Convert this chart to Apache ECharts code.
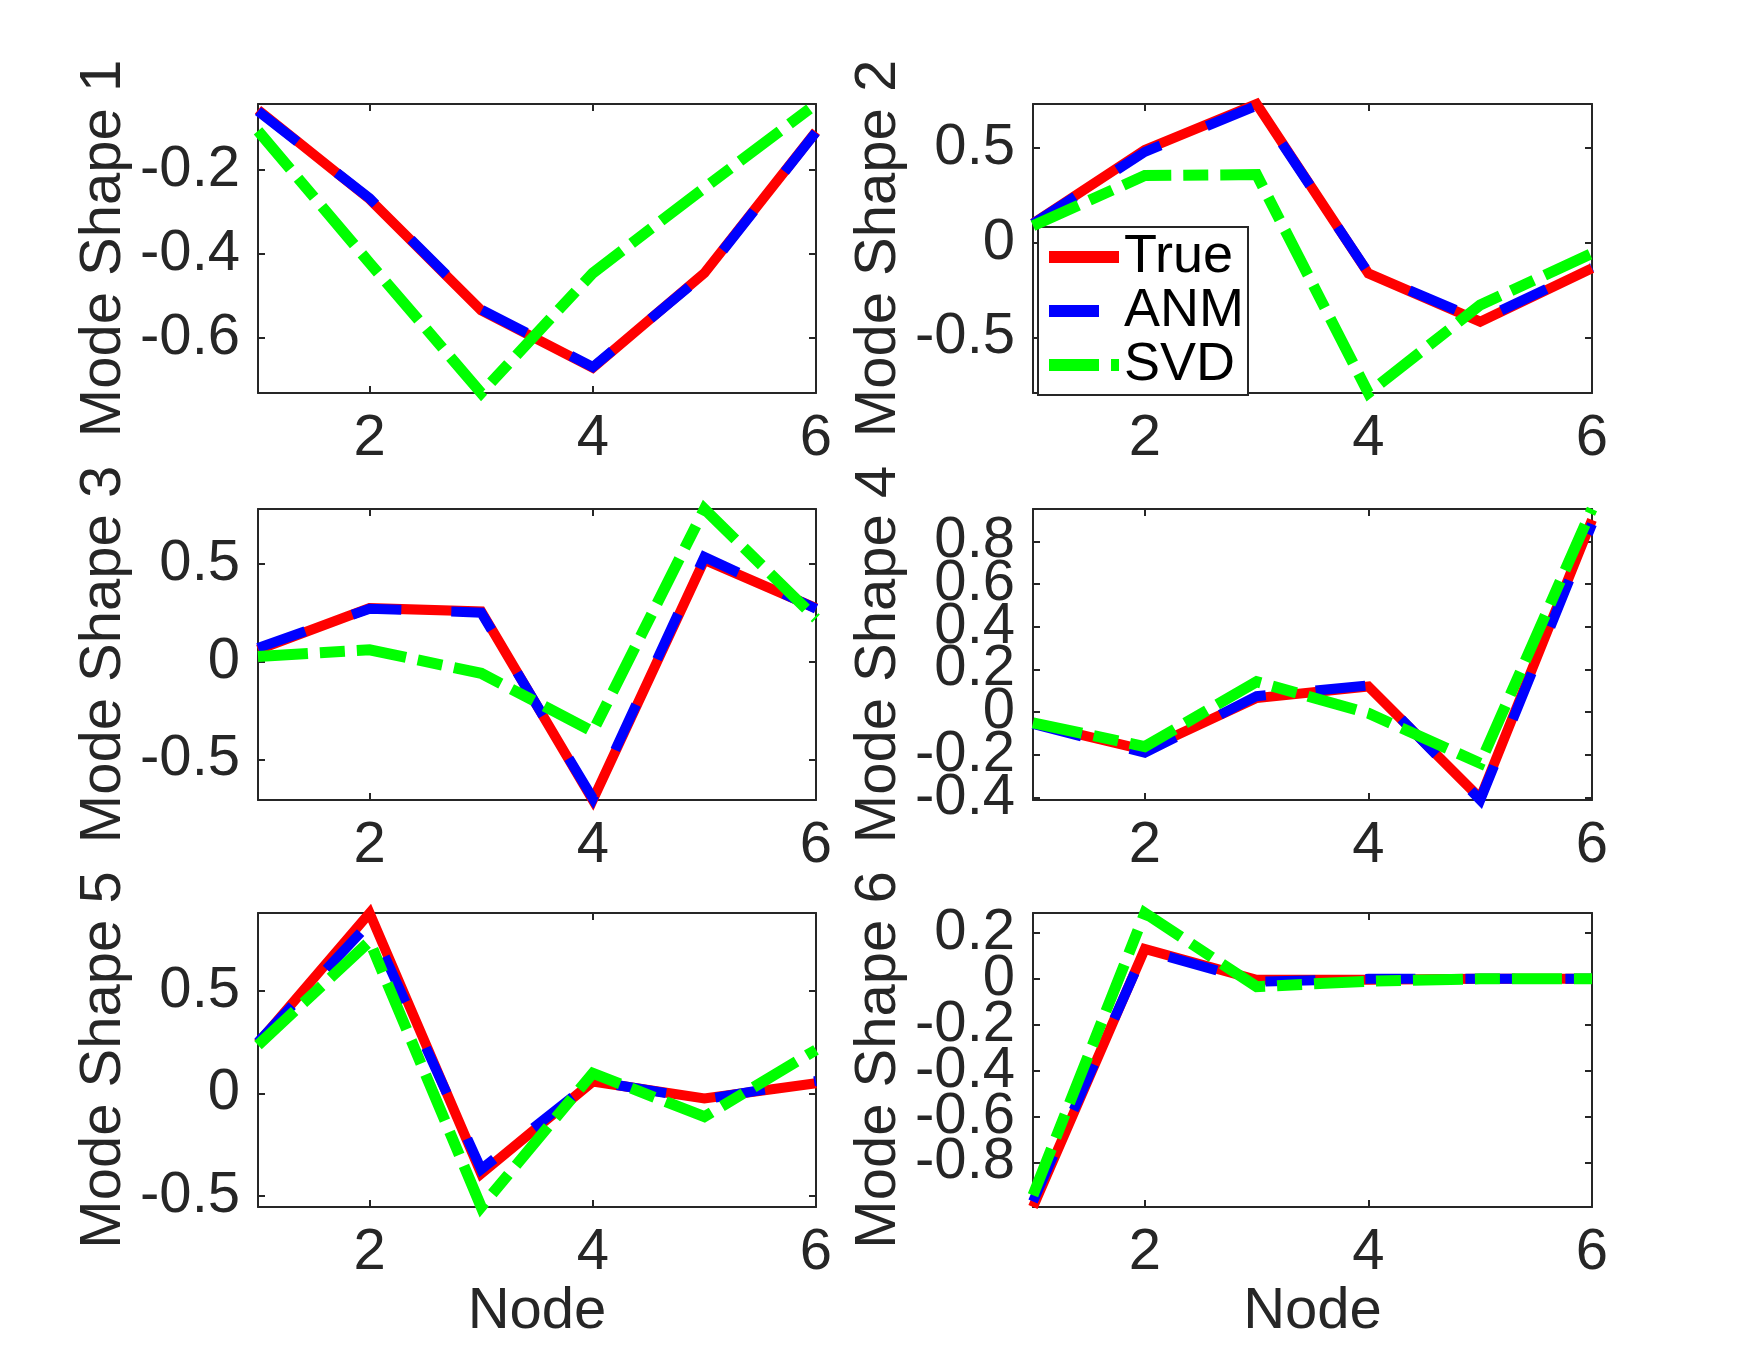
<!DOCTYPE html>
<html>
<head>
<meta charset="utf-8">
<script src="https://cdn.jsdelivr.net/npm/echarts@6/dist/echarts.min.js"></script>
<style>
    html, body { margin: 0; padding: 0; background: #fff; }
    #mode_shapes { width: 1759px; height: 1355px; }
</style>
</head>
<body>
<div id="mode_shapes"></div>
<script>
// data
const nodes = [1, 2, 3, 4, 5, 6];
const xTicks = [2, 4, 6];
const seriesNames = ['True', 'ANM', 'SVD'];

const trueShape1 = [-0.057, -0.27, -0.535, -0.672, -0.446, -0.109];
const anmShape1  = [-0.060, -0.268, -0.533, -0.670, -0.448, -0.110];
const svdShape1  = [-0.107, -0.422, -0.732, -0.446, -0.243, -0.043];
const yLimits1 = [-0.732, -0.043];
const yTicks1 = [-0.6, -0.4, -0.2];

const trueShape2 = [0.102, 0.49, 0.733, -0.162, -0.417, -0.135];
const anmShape2  = [0.100, 0.48, 0.725, -0.160, -0.410, -0.130];
const svdShape2  = [0.090, 0.355, 0.36, -0.794, -0.329, -0.056];
const yLimits2 = [-0.794, 0.733];
const yTicks2 = [-0.5, 0, 0.5];

const trueShape3 = [0.06, 0.273, 0.256, -0.708, 0.52, 0.273];
const anmShape3  = [0.07, 0.270, 0.250, -0.700, 0.535, 0.270];
const svdShape3  = [0.026, 0.06, -0.06, -0.358, 0.78, 0.22];
const yLimits3 = [-0.708, 0.78];
const yTicks3 = [-0.5, 0, 0.5];

const trueShape4 = [-0.052, -0.177, 0.066, 0.12, -0.403, 0.90];
const anmShape4  = [-0.055, -0.190, 0.075, 0.125, -0.411, 0.88];
const svdShape4  = [-0.050, -0.161, 0.143, -0.005, -0.239, 0.951];
const yLimits4 = [-0.411, 0.951];
const yTicks4 = [-0.4, -0.2, 0, 0.2, 0.4, 0.6, 0.8];

const trueShape5 = [0.244, 0.879, -0.391, 0.057, -0.025, 0.049];
const anmShape5  = [0.250, 0.830, -0.370, 0.060, -0.030, 0.060];
const svdShape5  = [0.235, 0.741, -0.554, 0.098, -0.114, 0.212];
const yLimits5 = [-0.554, 0.879];
const yTicks5 = [-0.5, 0, 0.5];

const trueShape6 = [-0.994, 0.13, -0.004, -0.004, 0.0, 0.0];
const anmShape6  = [-0.970, 0.125, -0.012, 0.0, 0.0, 0.0];
const svdShape6  = [-0.943, 0.287, -0.034, -0.01, 0.0, 0.0];
const yLimits6 = [-0.994, 0.287];
const yTicks6 = [-0.8, -0.6, -0.4, -0.2, 0, 0.2];

const panels = [
    { name: 'Mode Shape 1', shapes: [trueShape1, anmShape1, svdShape1], lim: yLimits1, ticks: yTicks1 },
    { name: 'Mode Shape 2', shapes: [trueShape2, anmShape2, svdShape2], lim: yLimits2, ticks: yTicks2 },
    { name: 'Mode Shape 3', shapes: [trueShape3, anmShape3, svdShape3], lim: yLimits3, ticks: yTicks3 },
    { name: 'Mode Shape 4', shapes: [trueShape4, anmShape4, svdShape4], lim: yLimits4, ticks: yTicks4 },
    { name: 'Mode Shape 5', shapes: [trueShape5, anmShape5, svdShape5], lim: yLimits5, ticks: yTicks5 },
    { name: 'Mode Shape 6', shapes: [trueShape6, anmShape6, svdShape6], lim: yLimits6, ticks: yTicks6 }
];

// layout
const colLeft = [258, 1033];
const colWidth = [558, 559];
const rowTop = [104, 509, 913];
const rowHeight = [289, 291, 294];

const axisColor = '#262626';
const fontFamily = 'Liberation Sans, Arial, Helvetica, sans-serif';
const lineStyles = [
    { color: '#ff0000', width: 10, type: 'solid' },
    { color: '#0000ff', width: 10, type: [50, 50] },
    { color: '#00ff00', width: 11, type: [50, 12, 25, 12] }
];

let myChart = echarts.init(document.getElementById('mode_shapes'));

let grids = [];
let xAxes = [];
let yAxes = [];
let seriesData = [];

function fmt(v) {
    return String(+(+v).toFixed(2));
}

function yLabel(values) {
    return { show: true, customValues: values, margin: 18, fontSize: 58,
        hideOverlap: false, showMinLabel: true, showMaxLabel: true,
        color: axisColor, fontFamily: fontFamily, formatter: fmt };
}

panels.forEach(function (p, i) {
    let col = i % 2;
    let row = Math.floor(i / 2);
    grids.push({
        left: colLeft[col],
        top: rowTop[row],
        width: colWidth[col],
        height: rowHeight[row]
    });

    let isBottom = row === 2;
    // bottom x axis + top mirror
    [false, true].forEach(function (mirror) {
        xAxes.push({
            type: 'value',
            gridIndex: i,
            position: mirror ? 'top' : 'bottom',
            min: 1,
            max: 6,
            name: (!mirror && isBottom) ? 'Node' : '',
            nameLocation: 'middle',
            nameGap: 68,
            nameTextStyle: { fontSize: 58, color: axisColor, fontFamily: fontFamily },
            axisLine: { show: true, onZero: false, lineStyle: { color: axisColor, width: 2 } },
            axisTick: { show: true, inside: true, length: 7, customValues: xTicks,
                lineStyle: { color: axisColor, width: 2 } },
            axisLabel: { show: !mirror, customValues: xTicks, margin: 17, fontSize: 58,
                hideOverlap: false, color: axisColor, fontFamily: fontFamily, formatter: fmt },
            splitLine: { show: false }
        });
    });

    // tick labels are split over two left axes so crowded ones are not dropped
    let evenTicks = p.ticks.filter(function (t, j) { return j % 2 === 0; });
    let oddTicks = p.ticks.filter(function (t, j) { return j % 2 === 1; });

    // left y axis (carries the series)
    yAxes.push({
        type: 'value',
        gridIndex: i,
        position: 'left',
        min: p.lim[0],
        max: p.lim[1],
        name: p.name,
        nameLocation: 'middle',
        nameGap: 125,
        nameTextStyle: { fontSize: 58, color: axisColor, fontFamily: fontFamily },
        axisLine: { show: true, onZero: false, lineStyle: { color: axisColor, width: 2 } },
        axisTick: { show: true, inside: true, length: 7, customValues: p.ticks,
            lineStyle: { color: axisColor, width: 2 } },
        axisLabel: yLabel(evenTicks),
        splitLine: { show: false }
    });
    // right mirror
    yAxes.push({
        type: 'value',
        gridIndex: i,
        position: 'right',
        min: p.lim[0],
        max: p.lim[1],
        axisLine: { show: true, onZero: false, lineStyle: { color: axisColor, width: 2 } },
        axisTick: { show: true, inside: true, length: 7, customValues: p.ticks,
            lineStyle: { color: axisColor, width: 2 } },
        axisLabel: { show: false },
        splitLine: { show: false }
    });
    // left labels only
    yAxes.push({
        type: 'value',
        gridIndex: i,
        position: 'left',
        offset: 0,
        min: p.lim[0],
        max: p.lim[1],
        axisLine: { show: false, onZero: false },
        axisTick: { show: false },
        axisLabel: Object.assign(yLabel(oddTicks), { show: oddTicks.length > 0 }),
        splitLine: { show: false }
    });

    p.shapes.forEach(function (values, k) {
        seriesData.push({
            name: seriesNames[k],
            type: 'line',
            xAxisIndex: i * 2,
            yAxisIndex: i * 3,
            symbol: 'none',
            clip: false,
            lineStyle: Object.assign({ join: 'miter', cap: 'butt' }, lineStyles[k]),
            itemStyle: { color: lineStyles[k].color },
            emphasis: { disabled: true },
            z: 2 + k,
            data: nodes.map(function (n, j) { return [n, values[j]]; })
        });
    });
});

let option = {
    backgroundColor: '#ffffff',
    animation: false,
    grid: grids,
    xAxis: xAxes,
    yAxis: yAxes,
    legend: {
        data: seriesNames,
        orient: 'vertical',
        left: 1038,
        top: 227,
        itemGap: 0,
        itemWidth: 70,
        itemHeight: 14,
        padding: [3, 4, 3, 5],
        backgroundColor: '#ffffff',
        borderColor: axisColor,
        borderWidth: 2,
        borderRadius: 0,
        selectedMode: false,
        lineStyle: { width: 12 },
        textStyle: { fontSize: 54, lineHeight: 53, color: '#000000', fontFamily: fontFamily }
    },
    series: seriesData
};
myChart.setOption(option);

window.addEventListener('resize', function () {
    myChart.resize();
});
</script>
</body>
</html>
